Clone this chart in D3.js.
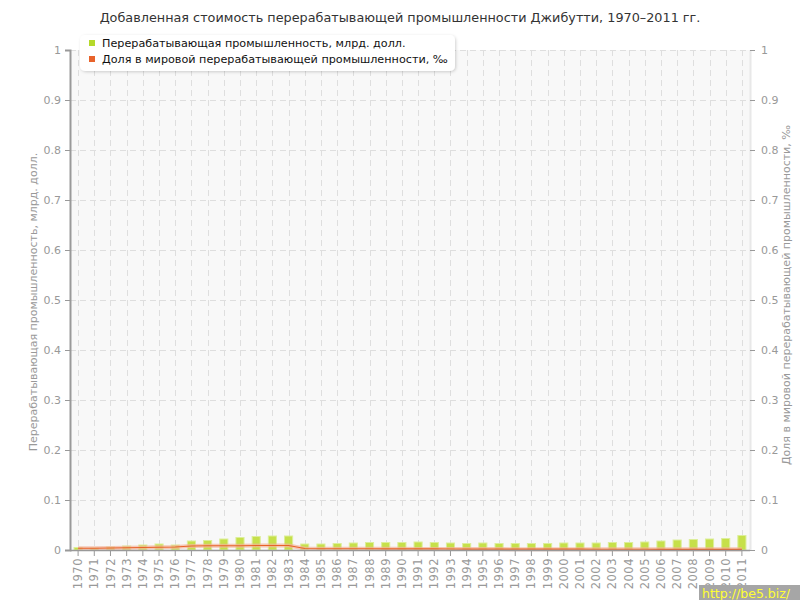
<!DOCTYPE html>
<html><head><meta charset="utf-8">
<script src="https://cdn.jsdelivr.net/npm/d3@7/dist/d3.min.js"></script>
<style>body{margin:0;background:#fff}svg{display:block;font-family:"DejaVu Sans",Verdana,sans-serif}</style>
</head><body><svg id="c" width="800" height="600"></svg>
<script>
const years = d3.range(1970, 2012).map(String);
const valueBn = [0.005,0.004,0.006,0.008,0.010,0.012,0.010,0.018,0.019,0.022,0.025,0.027,0.028,0.028,
  0.012,0.012,0.013,0.014,0.015,0.015,0.015,0.016,0.015,0.014,0.013,0.014,0.013,0.013,0.013,0.013,
  0.014,0.014,0.014,0.015,0.015,0.016,0.018,0.020,0.021,0.022,0.023,0.029];
const sharePermille = [0.0035,0.0035,0.004,0.0045,0.005,0.0055,0.006,0.008,0.0085,0.0085,0.0085,0.009,0.009,0.009,
  0.003,0.0025,0.0025,0.0025,0.0025,0.0024,0.0023,0.0022,0.0021,0.002,0.0019,0.0018,0.0018,0.0017,0.0017,0.0016,
  0.0016,0.0016,0.0015,0.0015,0.0015,0.0015,0.0014,0.0014,0.0014,0.0014,0.0014,0.0014];
const yTicks = [0,0.1,0.2,0.3,0.4,0.5,0.6,0.7,0.8,0.9,1];
const title = "Добавленная стоимость перерабатывающей промышленности Джибутти, 1970–2011 гг.";
const seriesNames = ["Перерабатывающая промышленность, млрд. долл.","Доля в мировой перерабатывающей промышленности, ‰"];
const leftLabel = "Перерабатывающая промышленность, млрд. долл.";
const rightLabel = "Доля в мировой перерабатывающей промышленности, ‰";

const svg = d3.select("#c");
const L=70,R=750,T=50,B=550;
const x = d3.scaleBand().domain(years).range([L,R]).paddingInner(0.5).paddingOuter(0.25);
const yL = d3.scaleLinear().domain([0,1]).range([B,T]);
const yR = d3.scaleLinear().domain([0,1]).range([B,T]);
const cx = d=>x(d)+x.bandwidth()/2;

svg.append("rect").attr("x",L).attr("y",T).attr("width",R-L).attr("height",B-T).attr("fill","#f8f8f8");
// grid
svg.append("g").selectAll("line").data(yTicks.slice(1)).join("line")
  .attr("x1",L).attr("x2",R).attr("y1",d=>Math.round(yL(d))+0.5).attr("y2",d=>Math.round(yL(d))+0.5)
  .attr("stroke","#dedede").attr("stroke-dasharray","6,4");
svg.append("g").selectAll("line").data(years).join("line")
  .attr("x1",d=>Math.round(cx(d))+0.5).attr("x2",d=>Math.round(cx(d))+0.5).attr("y1",T).attr("y2",B)
  .attr("stroke","#dedede").attr("stroke-dasharray","6,4");
svg.append("line").attr("x1",R+0.5).attr("x2",R+0.5).attr("y1",T).attr("y2",B).attr("stroke","#e8e8e8").attr("stroke-width",2);

// bars
svg.append("g").selectAll("rect").data(valueBn).join("rect")
  .attr("x",(d,i)=>x(years[i])).attr("width",x.bandwidth())
  .attr("y",d=>yL(d)).attr("height",d=>B-yL(d))
  .attr("fill","#c6e04a").attr("stroke","#dcee9a").attr("stroke-width",1);

// line
const line = d3.line().x((d,i)=>cx(years[i])).y(d=>yR(d));
svg.append("path").datum(sharePermille).attr("d",line).attr("fill","none")
  .attr("stroke","#f3b39a").attr("stroke-width",4).attr("stroke-opacity",0.7);
svg.append("path").datum(sharePermille).attr("d",line).attr("fill","none")
  .attr("stroke","#e8632b").attr("stroke-width",1.2);

// axes
const axL = svg.append("g").attr("transform",`translate(${L},0)`)
  .call(d3.axisLeft(yL).tickValues(yTicks).tickFormat(d3.format("")).tickSize(5).tickPadding(4));
const axR = svg.append("g").attr("transform",`translate(${R},0)`)
  .call(d3.axisRight(yR).tickValues(yTicks).tickFormat(d3.format("")).tickSize(5).tickPadding(6));
axR.select(".domain").remove();
const axB = svg.append("g").attr("transform",`translate(0,${B})`)
  .call(d3.axisBottom(x).tickSize(6).tickSizeOuter(0).tickPadding(4));
[axL,axR,axB].forEach(a=>{
  a.selectAll("text").attr("fill","#999").style("font-size","11px").style("font-family","DejaVu Sans, sans-serif");
  a.selectAll("line").attr("stroke","#999");
  a.select(".domain").attr("stroke","#999").attr("stroke-width",2);
});
axB.select(".domain").attr("d",`M${L},0.5H${R}`).attr("stroke-width",1.5);
axB.selectAll("text").attr("transform","rotate(-90)").attr("text-anchor","end")
  .attr("x",-8).attr("y",0).attr("dy","0.35em").style("font-size","11.5px").style("letter-spacing","0.5px");

// axis titles
svg.append("text").attr("transform","translate(37,302) rotate(-90)").attr("text-anchor","middle")
  .attr("fill","#999").style("font-size","11px").text(leftLabel);
svg.append("text").attr("transform","translate(790,295) rotate(-90)").attr("text-anchor","middle")
  .attr("fill","#999").style("font-size","11px").text(rightLabel);

// title
svg.append("text").attr("x",400).attr("y",22).attr("text-anchor","middle").attr("fill","#333")
  .style("font-size","12.8px").text(title);

// legend
const defs = svg.append("defs");
const f = defs.append("filter").attr("id","sh").attr("x","-10%").attr("y","-30%").attr("width","120%").attr("height","160%");
f.append("feDropShadow").attr("dx",1).attr("dy",1).attr("stdDeviation",1.5).attr("flood-color","#000").attr("flood-opacity",0.18);
const lg = svg.append("g");
lg.append("rect").attr("x",80).attr("y",35).attr("width",375).attr("height",36).attr("rx",5)
  .attr("fill","#fff").attr("filter","url(#sh)");
const colors = ["#b5d92a","#e8632b"];
seriesNames.forEach((n,i)=>{
  lg.append("rect").attr("x",89).attr("y",40+i*16).attr("width",6).attr("height",6).attr("fill",colors[i]);
  lg.append("text").attr("x",102).attr("y",47+i*16).attr("fill","#111").style("font-size","11.2px").text(n);
});

// watermark
svg.append("rect").attr("x",699).attr("y",585).attr("width",101).attr("height",15).attr("fill","#a6a6a6");
svg.append("text").attr("x",702).attr("y",598).attr("fill","#ffff33").style("font-size","12.5px").text("http://be5.biz/");
</script></body></html>
